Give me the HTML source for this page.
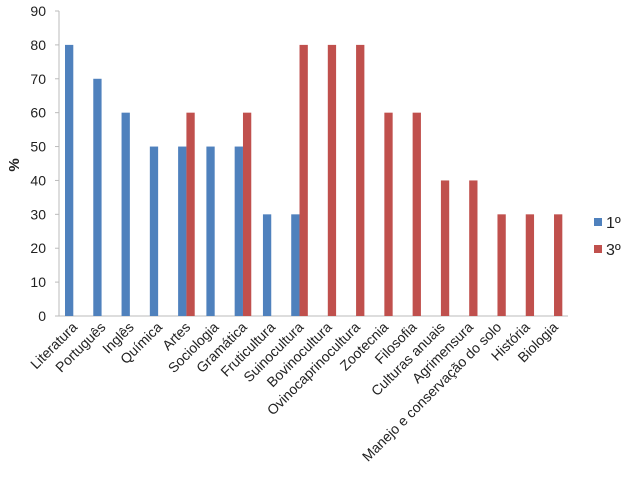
<!DOCTYPE html>
<html><head><meta charset="utf-8"><style>
body{margin:0;background:#fff;font-family:"Liberation Sans",sans-serif}
svg text{font-family:"Liberation Sans",sans-serif;fill:#222}
</style></head><body>
<svg id="c" width="632" height="476"></svg>
<script>
const categories=["Literatura","Português","Inglês","Química","Artes","Sociologia","Gramática","Fruticultura","Suinocultura","Bovinocultura","Ovinocaprinocultura","Zootecnia","Filosofia","Culturas anuais","Agrimensura","Manejo e conservação do solo","História","Biologia"];
const series1=[80,70,60,50,50,50,50,30,30,0,0,0,0,0,0,0,0,0];
const series3=[0,0,0,0,60,0,60,0,80,80,80,60,60,40,40,30,30,30];
const yTicks=[0,10,20,30,40,50,60,70,80,90];
const NS="http://www.w3.org/2000/svg";
const svg=document.getElementById('c');
const x0=59,x1=568,yb=316,yt=11;
const cw=(x1-x0)/categories.length;
function y(v){return yb-(v/90)*(yb-yt);}
function xc(i){return x0+i*cw;}
function mk(t,a){const e=document.createElementNS(NS,t);for(const k in a)e.setAttribute(k,a[k]);svg.appendChild(e);return e;}
let e;
e=mk('line',{x1:x0,y1:yt,x2:x0,y2:yb,stroke:'#bbb'});


e=mk('line',{x1:x0,y1:yb,x2:x1,y2:yb,stroke:'#bbb'});


yTicks.forEach(v=>{
 const l=mk('line',{x1:x0-4,y1:y(v),x2:x0,y2:y(v),stroke:'#bbb'});
 
 
 const t=mk('text',{x:46,y:y(v)+5,'text-anchor':'end','font-size':14});
 t.textContent=v;
 
 
});
const bw=8.3;
categories.forEach((c,i)=>{
 const bx=xc(i)+6;
 if(series1[i]>0){const r=mk('rect',{x:bx,y:y(series1[i]),width:bw,height:yb-y(series1[i]),fill:'#4f81bd'});
 
 }
 if(series3[i]>0){const r=mk('rect',{x:bx+bw,y:y(series3[i]),width:bw,height:yb-y(series3[i]),fill:'#c0504d'});
 
 }
 const cx=xc(i)+cw/2+5;
 const t=mk('text',{x:cx,y:328,'text-anchor':'end','font-size':14,transform:`rotate(-45 ${cx} 328)`});
 t.textContent=c;
 
 
});
e=mk('text',{x:19,y:165,'font-size':15,'font-weight':'bold','text-anchor':'middle',transform:'rotate(-90 19 165)'});
e.textContent='%';


[['1º','#4f81bd',222],['3º','#c0504d',249]].forEach(([n,col,ly])=>{
 const r=mk('rect',{x:594,y:ly-4,width:8,height:8,fill:col});
 
 
 const t=mk('text',{x:606,y:ly+6,'font-size':16});
 t.textContent=n;
 
 
});
</script>
</body></html>
